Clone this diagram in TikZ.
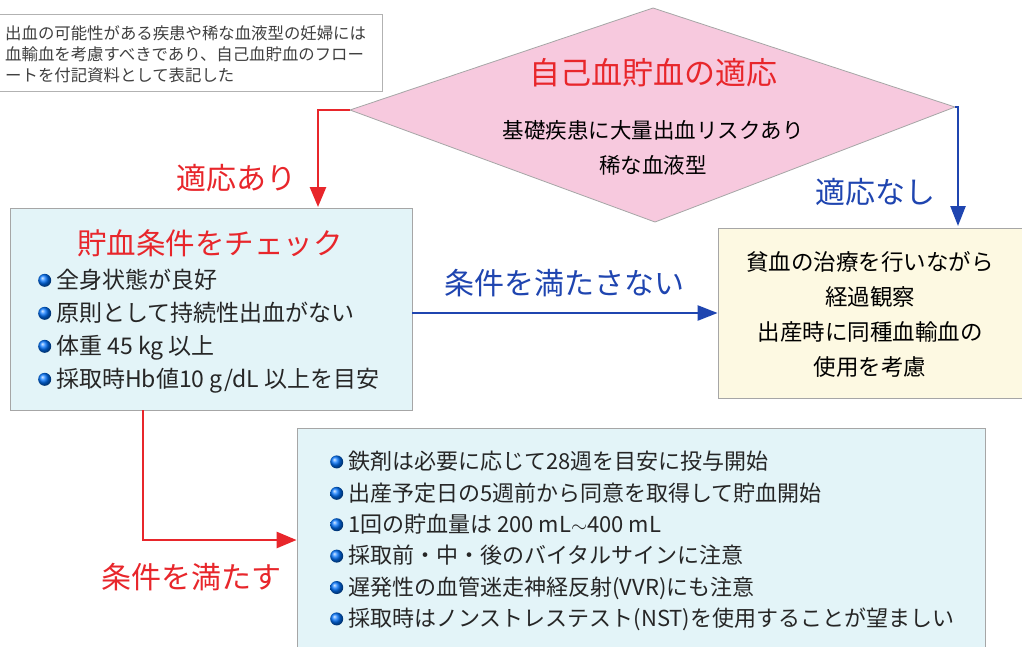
\documentclass[tikz,border=0pt]{standalone}
\usepackage{fontspec}
\setmainfont{Noto Sans CJK JP}
\usetikzlibrary{arrows.meta}

\definecolor{flowred}{HTML}{E8262B}
\definecolor{flowblue}{HTML}{1F45B0}
\definecolor{diapink}{HTML}{F7C9DE}
\definecolor{boxblue}{HTML}{E3F4F8}
\definecolor{boxyellow}{HTML}{FDF9E2}

\newcommand{\bdot}{\tikz[baseline=-0.35em]\shade[ball color=blue!55!cyan] (0,0) circle (6.5pt);\hspace{5pt}}

\begin{document}
\begin{tikzpicture}
    [
        x=1pt, y=-1pt,
        box/.style     = {draw=gray!70, line width=0.8pt, inner sep=0pt},
        redlbl/.style  = {text=flowred, font=\fontsize{30}{36}\selectfont},
        bluelbl/.style = {text=flowblue, font=\fontsize{30}{36}\selectfont},
        redarr/.style  = {draw=flowred, line width=2.6pt, -{Triangle[length=20pt,width=16pt]}},
        bluearr/.style = {draw=flowblue, line width=2.4pt, -{Triangle[length=20pt,width=15pt]}},
        lsttxt/.style  = {align=left, inner sep=0pt, anchor=west, text=black!85}
    ]
    \clip (0,0) rectangle (1022,646);
    \fill[white] (0,0) rectangle (1022,646);

    % note at the top left
    \node[box, draw=gray!60, fill=white, minimum width=390pt, minimum height=77pt] (note) at (187,53) {};
    \node[lsttxt, text=black!75, font=\fontsize{16.4}{21}\selectfont] (notet) at (5,54)
        {出血の可能性がある疾患や稀な血液型の妊婦には\\
         血輸血を考慮すべきであり、自己血貯血のフロー\\
         ートを付記資料として表記した};

    % decision
    \filldraw[fill=diapink, draw=gray!70, line width=0.8pt]
        (350,110) coordinate (dw) -- (653,8) coordinate (dn)
        -- (955,107) coordinate (de) -- (655,222) coordinate (ds) -- cycle;
    \node[redlbl, font=\fontsize{31}{36}\selectfont] (diat) at (653,73) {自己血貯血の適応};
    \node[align=center, font=\fontsize{21.5}{35}\selectfont] (diab) at (653,148)
        {基礎疾患に大量出血リスクあり\\稀な血液型};

    % check box
    \node[box, fill=boxblue, minimum width=402pt, minimum height=202pt] (chk) at (211,309) {};
    \node[redlbl, font=\fontsize{29.5}{36}\selectfont] (chkt) at (210,243) {貯血条件をチェック};
    \node[lsttxt, font=\fontsize{23}{33}\selectfont] (chkl) at (38,331)
        {\bdot 全身状態が良好\\
         \bdot 原則として持続性出血がない\\
         \bdot 体重 45 kg 以上\\
         \bdot 採取時Hb値10 g/dL 以上を目安};

    % no indication
    \node[box, fill=boxyellow, minimum width=312pt, minimum height=170pt] (obs) at (874,313) {};
    \node[align=center, font=\fontsize{22.5}{35}\selectfont] (obst) at (870,314)
        {貧血の治療を行いながら\\経過観察\\出産時に同種血輸血の\\使用を考慮};

    % storage steps
    \node[box, fill=boxblue, minimum width=688pt, minimum height=224pt] (lst) at (641,540) {};
    \node[lsttxt, font=\fontsize{22}{31.4}\selectfont] (lstl) at (330,541)
        {\bdot 鉄剤は必要に応じて28週を目安に投与開始\\
         \bdot 出産予定日の5週前から同意を取得して貯血開始\\
         \bdot 1回の貯血量は 200 mL$\sim$400 mL\\
         \bdot 採取前・中・後のバイタルサインに注意\\
         \bdot 遅発性の血管迷走神経反射(VVR)にも注意\\
         \bdot 採取時はノンストレステスト(NST)を使用することが望ましい};

    % connectors
    \coordinate (a1) at (318,207);
    \coordinate (a2) at (958,226);
    \coordinate (a3) at (143,540);
    \draw[redarr] (dw) -| (a1);
    \node[redlbl] (yes) at (236,178) {適応あり};
    \draw[bluearr] (de) -| (a2);
    \node[bluelbl] (no) at (875,192) {適応なし};
    \draw[bluearr] (chk.east |- obs.west) -- (obs.west);
    \node[bluelbl] (ng) at (564,283) {条件を満たさない};
    \draw[redarr] (chk.south -| a3) |- (lst.west);
    \node[redlbl] (ok) at (191,577) {条件を満たす};
\end{tikzpicture}
\end{document}
